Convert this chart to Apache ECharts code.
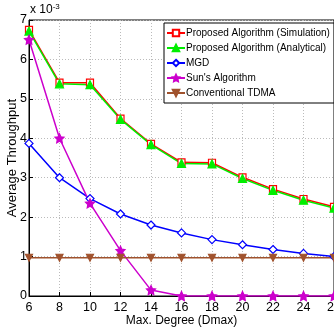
<!DOCTYPE html>
<html>
<head>
<meta charset="utf-8">
<script src="https://cdn.jsdelivr.net/npm/echarts@6/dist/echarts.min.js"></script>
<style>
  html, body { margin: 0; padding: 0; background: #fff; }
  #chart { width: 334px; height: 329px; }
</style>
</head>
<body>
<div id="chart"></div>
<script>
const degrees = [6, 8, 10, 12, 14, 16, 18, 20, 22, 24, 26]
const proposedSim = [6.75, 5.41, 5.41, 4.5, 3.86, 3.39, 3.38, 3.01, 2.71, 2.46, 2.26]
const proposedAna = [6.72, 5.38, 5.36, 4.48, 3.84, 3.36, 3.35, 2.98, 2.68, 2.43, 2.23]
const mgd = [3.87, 3.0, 2.47, 2.08, 1.8, 1.6, 1.43, 1.3, 1.18, 1.08, 1.0]
const sun = [6.5, 4.0, 2.35, 1.15, 0.15, 0, 0, 0, 0, 0, 0]
const tdma = [0.97, 0.97, 0.97, 0.97, 0.97, 0.97, 0.97, 0.97, 0.97, 0.97, 0.97]

const chart = echarts.init(document.getElementById('chart'))
const font = 'Liberation Sans, Arial, sans-serif'

const pair = arr => degrees.map((d, i) => [d, arr[i]])

const mkSeries = (name, data, color, symbol, size, fill) => ({
  name,
  type: 'line',
  data: pair(data),
  symbol,
  symbolSize: size,
  lineStyle: { color, width: 1.5 },
  itemStyle: { color: fill ? color : '#fff', borderColor: color, borderWidth: 1.2 },
  emphasis: { disabled: true }
})

const option = {
  animation: false,
  backgroundColor: '#fff',
  textStyle: { fontFamily: font },
  grid: {
    left: 29, right: 0, top: 20, bottom: 33,
    outerBoundsMode: 'none',
    show: true, borderColor: '#000', borderWidth: 1
  },
  legend: {
    orient: 'vertical',
    left: 164,
    top: 23,
    itemGap: 5,
    itemWidth: 18,
    itemHeight: 8,
    padding: [5, 4, 5, 2],
    borderColor: '#000',
    borderWidth: 1,
    backgroundColor: '#fff',
    textStyle: { fontFamily: font, fontSize: 10, color: '#000', padding: [0, 0, 0, -4] },
    data: ['Proposed Algorithm (Simulation)', 'Proposed Algorithm (Analytical)', 'MGD', "Sun's Algorithm", 'Conventional TDMA']
  },
  xAxis: {
    type: 'value',
    min: 6,
    max: 26,
    interval: 2,
    name: 'Max. Degree (Dmax)',
    nameLocation: 'middle',
    nameMoveOverlap: false,
    nameGap: 19,
    nameTextStyle: { fontFamily: font, fontSize: 12, color: '#000' },
    axisLine: { lineStyle: { color: '#000' } },
    axisTick: { inside: true, length: 4, lineStyle: { color: '#000' } },
    axisLabel: { fontFamily: font, fontSize: 12.5, color: '#000', margin: 5 },
    splitLine: { show: true, lineStyle: { color: '#bbb', type: [1, 2] } }
  },
  yAxis: {
    type: 'value',
    min: 0,
    max: 7,
    interval: 1,
    name: 'Average Throughput',
    nameLocation: 'middle',
    nameMoveOverlap: false,
    nameGap: 10,
    nameTextStyle: { fontFamily: font, fontSize: 13, color: '#000' },
    axisLine: { lineStyle: { color: '#000' } },
    axisTick: { inside: true, length: 4, lineStyle: { color: '#000' } },
    axisLabel: { fontFamily: font, fontSize: 12.5, color: '#000', margin: 2 },
    splitLine: { show: true, lineStyle: { color: '#bbb', type: [1, 2] } }
  },
  graphic: [{
    type: 'text',
    left: 30,
    top: 3,
    style: {
      text: 'x 10{s|-3}',
      fontFamily: font,
      fontSize: 12,
      fill: '#000',
      rich: { s: { fontSize: 8, verticalAlign: 'top', padding: [0, 0, 6, 0] } }
    }
  }],
  series: [
    mkSeries('Proposed Algorithm (Simulation)', proposedSim, '#ff0000', 'rect', 7, false),
    mkSeries('Proposed Algorithm (Analytical)', proposedAna, '#00ee00', 'triangle', 8, true),
    mkSeries('MGD', mgd, '#0000ff', 'diamond', 8, false),
    mkSeries("Sun's Algorithm", sun, '#cc00cc', 'path://M0,-10L2.9,-4L9.5,-3.1L4.7,1.5L5.9,8.1L0,5L-5.9,8.1L-4.7,1.5L-9.5,-3.1L-2.9,-4Z', 9, true),
    mkSeries('Conventional TDMA', tdma, '#a0522d', 'path://M-10,-8L10,-8L0,10Z', 7, true)
  ]
}

chart.setOption(option)
</script>
</body>
</html>
